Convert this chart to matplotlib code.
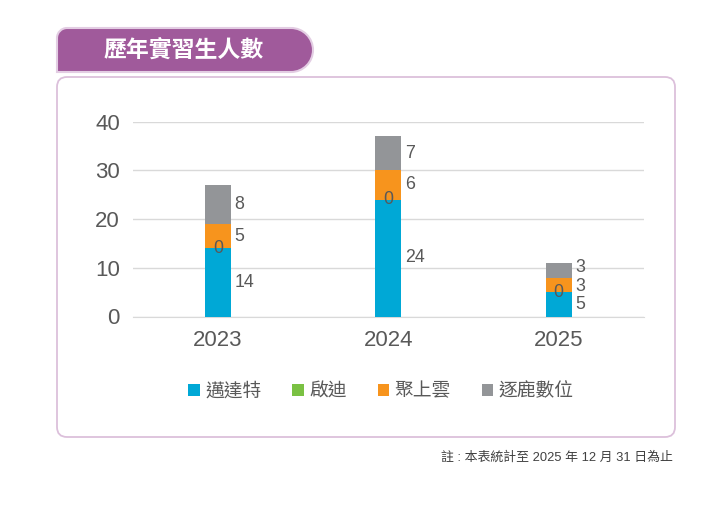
import matplotlib
matplotlib.use("Agg")
import matplotlib.pyplot as plt
from matplotlib.patches import FancyBboxPatch, PathPatch
from matplotlib.path import Path
import numpy as np

plt.rcParams['font.family'] = ['Liberation Sans', 'Noto Sans CJK TC', 'DejaVu Sans']

years = ['2023', '2024', '2025']
series_names = ['邁達特', '啟迪', '聚上雲', '逐鹿數位']
maidate = [14, 24, 5]
qidi = [0, 0, 0]
jushangyun = [5, 6, 3]
zhulu = [8, 7, 3]
series_values = [maidate, qidi, jushangyun, zhulu]
colors = ['#00A8D6', '#7AC143', '#F7941D', '#939598']
yticks = [0, 10, 20, 30, 40]
title = '歷年實習生人數'
note = '註 : 本表統計至 2025 年 12 月 31 日為止'

W, H = 720, 512
fig = plt.figure(figsize=(W / 100, H / 100), dpi=100)

bg = fig.add_axes([0, 0, 1, 1])
bg.set_xlim(0, W)
bg.set_ylim(H, 0)
bg.axis('off')

panel = FancyBboxPatch((57, 77), 618, 360, boxstyle='round,pad=0,rounding_size=10',
                       facecolor='white', edgecolor='#DCC0DB', linewidth=1.3)
bg.add_patch(panel)

x0, x1, yt, yb = 57, 313, 28, 72
r1 = 10
r2 = (yb - yt) / 2
k = 0.5523
verts = [
    (x0, yb), (x0, yt + r1),
    (x0, yt + r1 - r1 * k), (x0 + r1 - r1 * k, yt), (x0 + r1, yt),
    (x1 - r2, yt),
    (x1 - r2 + r2 * k, yt), (x1, yt + r2 - r2 * k), (x1, yt + r2),
    (x1, yt + r2 + r2 * k), (x1 - r2 + r2 * k, yb), (x1 - r2, yb),
    (x0, yb),
]
codes = [Path.MOVETO, Path.LINETO, Path.CURVE4, Path.CURVE4, Path.CURVE4,
         Path.LINETO, Path.CURVE4, Path.CURVE4, Path.CURVE4,
         Path.CURVE4, Path.CURVE4, Path.CURVE4, Path.CLOSEPOLY]
tab = PathPatch(Path(verts, codes), facecolor='#A05A9B', edgecolor='#E3CDE3', linewidth=1.5)
bg.add_patch(tab)
bg.text(184, 50, title, color='white', fontsize=16.5, ha='center', va='center',
        fontweight='bold', family=['Noto Sans CJK TC'])

bg.text(673, 457, note, color='#404040', fontsize=9.3, ha='right', va='center')

axl, axr = 132.5, 644
ayb, ayt = 316.5, 121.5
ax = fig.add_axes([axl / W, (H - ayb) / H, (axr - axl) / W, (ayb - ayt) / H])
ax.set_xlim(-0.5, 2.5)
ax.set_ylim(0, 40)
ax.patch.set_alpha(0)
x = np.arange(len(years))
bw = 0.152
bottom = np.zeros(len(years))
handles = []
side_labels = [[] for _ in years]  # (ypos, text) per bar
for name, vals, c in zip(series_names, series_values, colors):
    vals = np.array(vals, dtype=float)
    h = ax.bar(x, vals, bw, bottom=bottom, color=c, label=name, zorder=3)
    handles.append(h)
    for i, (xi, v, b) in enumerate(zip(x, vals, bottom)):
        if v == 0:
            ax.text(xi, b, f'{int(v)}', ha='center', va='center', fontsize=12.8,
                    color='#595959', zorder=4)
        else:
            side_labels[i].append([b + v / 2, f'{int(v)}'])
    bottom += vals

# spread side labels apart so they don't overlap (min gap in data units)
min_gap = 3.8
for i, labs in enumerate(side_labels):
    for _ in range(20):
        for j in range(len(labs) - 1):
            gap = labs[j + 1][0] - labs[j][0]
            if gap < min_gap:
                d = (min_gap - gap) / 2
                labs[j][0] -= d
                labs[j + 1][0] += d
    for yv, t in labs:
        ax.text(x[i] + bw / 2 + 0.022, yv, t, ha='left', va='center',
                fontsize=12.8, color='#595959', zorder=4)

ax.set_yticks(yticks)
ax.set_yticklabels([str(t) for t in yticks])
ax.set_xticks(x)
ax.set_xticklabels(years)
ax.grid(axis='y', color='#D9D9D9', linewidth=1, zorder=0)
for s in ['top', 'right', 'left']:
    ax.spines[s].set_visible(False)
ax.spines['bottom'].set_color('#D9D9D9')
ax.tick_params(axis='both', length=0, labelsize=16, colors='#595959')
ax.tick_params(axis='x', pad=10)
ax.tick_params(axis='y', pad=9)

leg = fig.legend(handles=handles, labels=series_names, loc='center',
                 bbox_to_anchor=(381 / W, (H - 391) / H), ncol=4, frameon=False,
                 handlelength=0.6, handleheight=0.6, handletextpad=0.3,
                 columnspacing=1.65, labelcolor='#595959',
                 prop={'family': ['Noto Sans CJK TC'], 'size': 13.5})

fig.savefig('out.png', dpi=100)
